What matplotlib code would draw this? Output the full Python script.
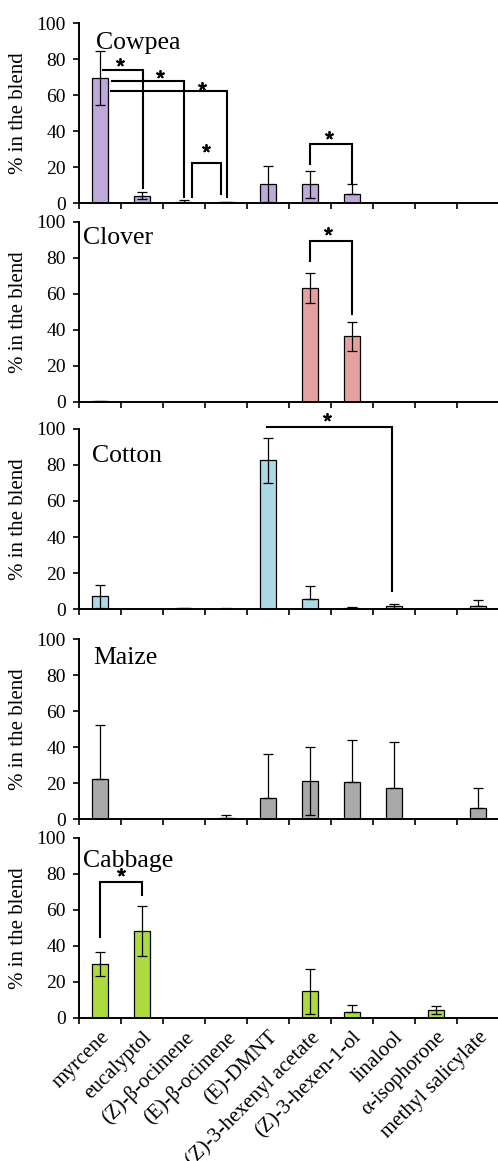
import numpy as np
import matplotlib
matplotlib.use("Agg")
import matplotlib.pyplot as plt

plt.rcParams['font.family'] = ['Liberation Serif', 'DejaVu Serif']

# compounds on the x axis
compounds = ["myrcene", "eucalyptol", "(Z)-\u03b2-ocimene", "(E)-\u03b2-ocimene",
             "(E)-DMNT", "(Z)-3-hexenyl acetate", "(Z)-3-hexen-1-ol",
             "linalool", "\u03b1-isophorone", "methyl salicylate"]

# mean % in the blend and SD per plant
cowpea = [69.5, 4.0, 0.8, 0.5, 10.5, 10.5, 5.0, 0, 0, 0]
cowpea_sd = [15.0, 2.0, 0.7, 0.3, 10.2, 7.5, 5.5, 0, 0, 0]
clover = [0.5, 0, 0, 0, 0, 63.5, 36.5, 0, 0, 0]
clover_sd = [0.3, 0, 0, 0, 0, 8.3, 8.0, 0, 0, 0]
cotton = [7.0, 0, 0.5, 0.2, 82.5, 5.5, 0.3, 1.8, 0, 1.7]
cotton_sd = [6.5, 0, 0.3, 0.1, 12.3, 7.3, 0.8, 1.0, 0, 3.3]
maize = [22.0, 0, 0, 0.8, 11.8, 21.0, 20.5, 17.0, 0, 6.3]
maize_sd = [30.0, 0, 0, 1.5, 24.5, 19.0, 23.5, 26.0, 0, 10.8]
cabbage = [29.8, 48.5, 0, 0, 0, 14.8, 3.3, 0, 4.5, 0]
cabbage_sd = [6.7, 13.9, 0, 0, 0, 12.6, 3.7, 0, 2.0, 0]

plants = ["Cowpea", "Clover", "Cotton", "Maize", "Cabbage"]
colors = ["#BFA8DA", "#E5A0A0", "#ADD8E6", "#ABA8A8", "#ADDA3D"]
title_pos = [(-0.1, 85.5), (-0.4, 88), (-0.19, 81.7), (-0.17, 86), (-0.4, 84)]

# significance brackets: (x left, x right, top, left leg bottom, right leg bottom)
brackets = {
    "Cowpea": [(0.08, 1.03, 74, 74, 8.3), (0.28, 2.0, 68, 68, 3.5),
               (0.26, 3.03, 62, 62, 3.5), (2.2, 2.88, 22.4, 3.5, 5.0),
               (5.0, 6.0, 32.6, 21.7, 11.0)],
    "Clover": [(5.0, 6.0, 89.5, 78.4, 49.0)],
    "Cotton": [(3.97, 6.96, 101, 101, 10.0)],
    "Maize": [],
    "Cabbage": [(0.0, 1.0, 75.4, 45.0, 68.4)],
}
# star positions (x, y)
stars = {
    "Cowpea": [(0.48, 78.5), (1.43, 71.7), (2.43, 65.0), (2.52, 30.4), (5.45, 38.0)],
    "Clover": [(5.44, 94.8)],
    "Cotton": [(5.4, 106.5)],
    "Maize": [],
    "Cabbage": [(0.49, 81.3)],
}

means = [cowpea, clover, cotton, maize, cabbage]
sds = [cowpea_sd, clover_sd, cotton_sd, maize_sd, cabbage_sd]

W, H = 498, 1161
fig = plt.figure(figsize=(W / 100, H / 100), dpi=100)

bottoms_px = [203, 402, 609, 819, 1018]
x = np.arange(len(compounds))

for k, name in enumerate(plants):
    ax = fig.add_axes([79 / W, 1 - bottoms_px[k] / H, 420 / W, 180 / H])
    m = np.array(means[k], dtype=float)
    s = np.array(sds[k], dtype=float)
    lower = np.where(s <= m, s, 0)
    ax.bar(x, m, width=0.4, color=colors[k], edgecolor="black", linewidth=0.9, zorder=2)
    show = s > 0
    ax.errorbar(x[show], m[show], yerr=[lower[show], s[show]], fmt="none",
                ecolor="black", elinewidth=0.9, capsize=3.6, capthick=0.9, zorder=3)

    for (xl, xr, top, bl, br) in brackets[name]:
        ax.plot([xl, xl, xr, xr], [bl, top, top, br], color="black", lw=1.5,
                clip_on=False, zorder=4, solid_joinstyle="miter")
    for (sx, sy) in stars[name]:
        ax.plot(sx, sy, marker=(5, 2, 0), color="black", markersize=6,
                markeredgewidth=1.3, clip_on=False, zorder=4)

    ax.text(title_pos[k][0], title_pos[k][1], name, fontsize=18.5, ha="left", va="baseline")

    ax.set_xlim(-0.5, 9.5)
    ax.set_ylim(0, 100)
    ax.set_yticks([0, 20, 40, 60, 80, 100])
    ax.tick_params(axis="y", labelsize=14, length=4.3, width=1.2, direction="out", pad=5)
    ax.set_xticks(np.arange(-0.5, 10, 1.0), minor=True)
    ax.tick_params(axis="x", which="minor", length=4.3, width=1.2, direction="out")
    ax.set_xticks(x)
    ax.tick_params(axis="x", which="major", length=0, pad=7)
    if k == len(plants) - 1:
        ax.set_xticklabels(compounds, rotation=45, ha="right", rotation_mode="anchor",
                           fontsize=15)
    else:
        ax.set_xticklabels([])

    for sp in ["top", "right"]:
        ax.spines[sp].set_visible(False)
    for sp in ["left", "bottom"]:
        ax.spines[sp].set_linewidth(1.4)

    ax.set_ylabel("% in the blend", fontsize=15)
    ax.yaxis.set_label_coords(-0.121, 0.5)

fig.savefig("out.png", dpi=100)
